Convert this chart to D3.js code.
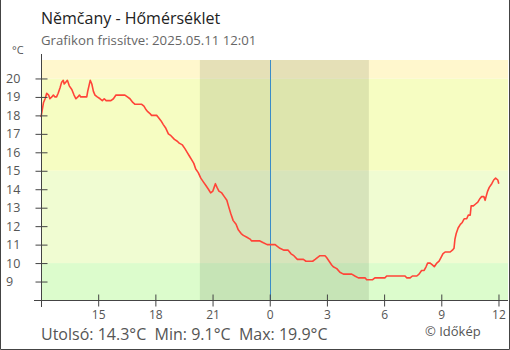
<!DOCTYPE html>
<html><head><meta charset="utf-8">
<script src="https://cdn.jsdelivr.net/npm/d3@7"></script>
<style>
html,body{margin:0;padding:0;background:#fff;}
svg{display:block;font-family:"Open Sans",sans-serif;}
</style></head>
<body>
<svg id="c" width="510" height="350"></svg>
<script>
// Minutes since 2025-05-10 12:00
const minutesFrom1200 = [0,3,8,13,18,24,28,34,39,44,49,54,60,65,70,73,78,83,89,97,104,110,116,121,125,144,147,151,155,160,165,170,177,186,193,199,205,220,228,236,264,272,280,289,296,317,324,331,336,343,348,364,369,378,385,393,401,409,420,429,435,445,453,460,467,474,481,487,495,503,511,519,527,534,541,545,549,554,560,569,577,585,590,597,605,614,621,630,637,648,658,663,689,700,712,737,744,752,765,778,787,796,807,826,834,855,863,870,878,894,899,907,915,920,931,941,952,978,988,999,1004,1020,1025,1044,1051,1083,1088,1146,1151,1162,1169,1183,1190,1198,1206,1212,1217,1225,1232,1238,1246,1253,1259,1265,1272,1288,1295,1300,1303,1307,1313,1320,1326,1332,1340,1345,1351,1354,1361,1368,1375,1382,1387,1394,1398,1401,1406,1411,1419,1425,1431,1438,1441];
const temperature = [17.9,18.2,18.7,18.9,19.2,19.1,18.9,19.0,19.1,19.0,19.0,19.2,19.5,19.8,19.9,19.7,19.8,19.9,19.6,19.4,19.1,18.9,19.0,19.1,19.0,19.0,19.3,19.6,19.9,19.7,19.3,19.1,19.0,18.9,18.8,18.9,18.8,18.8,18.9,19.1,19.1,19.0,18.9,18.7,18.6,18.6,18.5,18.3,18.2,18.1,18.0,18.0,17.9,17.7,17.5,17.3,17.0,16.9,16.7,16.6,16.5,16.4,16.2,16.0,15.8,15.6,15.4,15.1,14.9,14.6,14.4,14.2,14.0,13.8,13.9,14.1,14.3,14.1,13.9,13.8,13.6,13.4,13.1,12.7,12.3,12.1,11.8,11.6,11.5,11.4,11.3,11.2,11.2,11.1,11.0,11.0,10.9,10.8,10.7,10.7,10.5,10.4,10.2,10.2,10.1,10.1,10.2,10.3,10.4,10.4,10.3,10.1,9.9,9.8,9.7,9.5,9.4,9.4,9.3,9.2,9.2,9.2,9.1,9.1,9.2,9.2,9.3,9.3,9.2,9.2,9.3,9.3,9.4,9.6,9.6,9.8,10.0,10.0,9.9,9.8,10.0,10.1,10.3,10.5,10.6,10.6,10.7,10.8,11.3,11.6,11.9,12.1,12.2,12.4,12.4,12.6,12.6,13.1,13.1,13.2,13.3,13.5,13.6,13.6,13.4,13.6,13.9,14.1,14.3,14.5,14.6,14.5,14.3];

const xTickMinutes = [180,360,540,720,900,1080,1260,1440];
const xTickLabels = ["15","18","21","0","3","6","9","12"];
const yTicks = [9,10,11,12,13,14,15,16,17,18,19,20];
const bandLimits = [8,10,15,20,21];
const bandColors = ["#dcfccc","#f0fcd2","#f6fdc2","#fff7cd"];
const nightStartMin = 500;  // 20:20
const nightEndMin = 1032;   // 05:12
const midnightMin = 720;

const title = "Němčany - Hőmérséklet";
const subtitle = "Grafikon frissítve: 2025.05.11 12:01";
const summary = "Utolsó: 14.3°C  Min: 9.1°C  Max: 19.9°C";
const credit = "© Időkép";

const svg = d3.select("#c");
const L = 41, R = 508, T = 60, B = 300;
const x = d3.scaleLinear().domain([0, 1470]).range([L, R]);
const y = d3.scaleLinear().domain([8, 21]).range([B, T]);

// bands
svg.selectAll("rect.band").data(bandColors).join("rect")
  .attr("x", L).attr("width", R - L)
  .attr("y", (d,i) => y(bandLimits[i+1]))
  .attr("height", (d,i) => y(bandLimits[i]) - y(bandLimits[i+1]))
  .attr("fill", d => d);

// night
svg.append("rect").attr("x", x(nightStartMin)).attr("width", x(nightEndMin) - x(nightStartMin))
  .attr("y", T).attr("height", B - T).attr("fill", "rgba(40,55,25,0.12)");

// midnight line
svg.append("line").attr("x1", Math.round(x(midnightMin)) + 0.5).attr("x2", Math.round(x(midnightMin)) + 0.5)
  .attr("y1", T).attr("y2", B).attr("stroke", "#3a8cc8").attr("stroke-width", 1);

// line
const line = d3.line().x((d,i) => x(minutesFrom1200[i])).y(d => y(d));
svg.append("path").datum(temperature).attr("d", line)
  .attr("fill", "none").attr("stroke", "#ff4438").attr("stroke-width", 1.6).attr("stroke-linejoin", "round");

// axes
const axisColor = "#444";
const yAx = svg.append("g").attr("transform", `translate(${L + 0.5},0)`)
  .call(d3.axisLeft(y).tickValues(yTicks).tickSize(6).tickFormat(""));
yAx.select(".domain").remove();
yAx.selectAll(".tick line").attr("x2", 6).attr("x1", -6).attr("stroke", axisColor);
svg.append("line").attr("x1", L + 0.5).attr("x2", L + 0.5).attr("y1", 54).attr("y2", 307).attr("stroke", axisColor);
svg.selectAll("text.ylab").data(yTicks).join("text")
  .attr("x", 6).attr("y", d => y(d) + 4.5).text(d => d)
  .attr("font-size", 12.5).attr("fill", "#555");

const xAx = svg.append("g").attr("transform", `translate(0,${B + 0.5})`)
  .call(d3.axisBottom(x).tickValues(xTickMinutes).tickSize(6).tickFormat((d,i) => xTickLabels[i]));
xAx.select(".domain").remove();
xAx.selectAll(".tick line").attr("y1", -6).attr("y2", 6).attr("stroke", axisColor);
xAx.selectAll(".tick text").attr("y", 9.5).attr("font-size", 12).attr("fill", "#555").attr("font-family", "Open Sans");
svg.append("line").attr("x1", 34).attr("x2", R).attr("y1", B + 0.5).attr("y2", B + 0.5).attr("stroke", axisColor);

// texts
svg.append("text").attr("x", 12).attr("y", 54).text("°C").attr("font-size", 11).attr("fill", "#555");
svg.append("text").attr("x", 41).attr("y", 24).text(title).attr("font-size", 16).attr("fill", "#222");
svg.append("text").attr("x", 41).attr("y", 45).text(subtitle).attr("font-size", 13.2).attr("fill", "#666");
svg.append("text").attr("x", 41).attr("y", 340).text(summary).attr("font-size", 16).attr("fill", "#555").attr("xml:space","preserve").style("white-space","pre");
svg.append("text").attr("x", 425).attr("y", 336).text(credit).attr("font-size", 13).attr("fill", "#555");

// frame
svg.append("path").attr("d", "M0.5,0 V349.5 H509.5 V0").attr("fill", "none").attr("stroke", "#444");
</script>
</body></html>
